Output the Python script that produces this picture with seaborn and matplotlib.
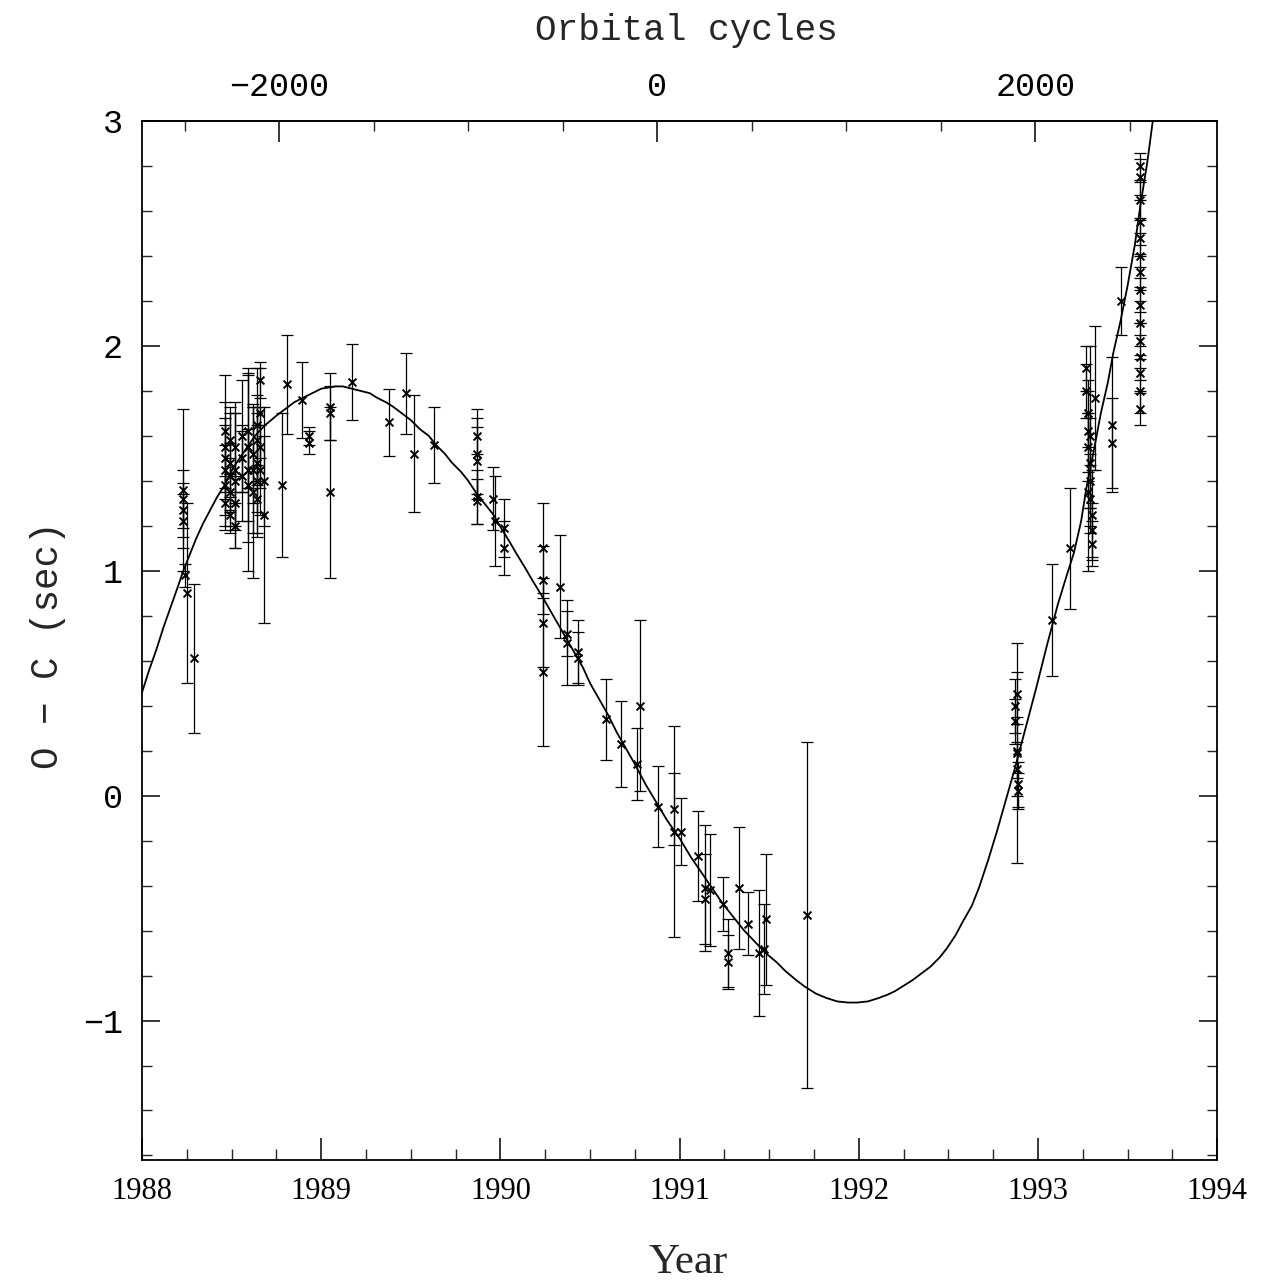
import matplotlib
matplotlib.use("Agg")
import matplotlib.pyplot as plt
from matplotlib.ticker import MultipleLocator
import seaborn as sns

# ---- data ----
years = [
    1988.23, 1988.23, 1988.23, 1988.23, 1988.24, 1988.25, 1988.29,
    1988.46, 1988.46, 1988.46, 1988.46, 1988.46, 1988.46,
    1988.49, 1988.49, 1988.49, 1988.49, 1988.49,
    1988.52, 1988.52, 1988.52, 1988.52, 1988.52,
    1988.56, 1988.56, 1988.56,
    1988.59, 1988.59, 1988.59, 1988.59,
    1988.62, 1988.62, 1988.62,
    1988.64, 1988.64, 1988.64, 1988.64, 1988.64,
    1988.66, 1988.66, 1988.66, 1988.66,
    1988.68, 1988.68,
    1988.78, 1988.81, 1988.89, 1988.93, 1988.93,
    1989.05, 1989.05, 1989.05, 1989.17, 1989.38, 1989.47, 1989.52, 1989.63,
    1989.87, 1989.87, 1989.87, 1989.87, 1989.87,
    1989.96, 1989.97, 1990.02, 1990.02,
    1990.24, 1990.24, 1990.24, 1990.24,
    1990.33, 1990.37, 1990.37, 1990.43, 1990.43,
    1990.59, 1990.67, 1990.76, 1990.78,
    1990.88, 1990.97, 1990.97, 1991.01,
    1991.10, 1991.14, 1991.14, 1991.17, 1991.24, 1991.27, 1991.27,
    1991.33, 1991.38, 1991.44, 1991.47, 1991.48, 1991.71,
    1992.87, 1992.87, 1992.88, 1992.88, 1992.88, 1992.89, 1992.89, 1992.88,
    1993.08, 1993.18,
    1993.27, 1993.27, 1993.28, 1993.28, 1993.28, 1993.29, 1993.29, 1993.29,
    1993.30, 1993.30, 1993.30, 1993.29, 1993.28,
    1993.32, 1993.41, 1993.41, 1993.46,
    1993.57, 1993.57, 1993.57, 1993.57, 1993.57, 1993.57, 1993.57, 1993.57,
    1993.57, 1993.57, 1993.57, 1993.57, 1993.57, 1993.57, 1993.57,
]
oc = [
    1.36, 1.32, 1.27, 1.22, 0.98, 0.90, 0.61,
    1.55, 1.50, 1.45, 1.38, 1.62, 1.30,
    1.58, 1.48, 1.42, 1.35, 1.25,
    1.55, 1.45, 1.40, 1.30, 1.20,
    1.60, 1.50, 1.42,
    1.55, 1.45, 1.38, 1.62,
    1.52, 1.45, 1.35,
    1.65, 1.58, 1.48, 1.40, 1.32,
    1.85, 1.70, 1.55, 1.45,
    1.25, 1.40,
    1.38, 1.83, 1.76, 1.57, 1.60,
    1.73, 1.70, 1.35, 1.84, 1.66, 1.79, 1.52, 1.56,
    1.52, 1.49, 1.33, 1.31, 1.60,
    1.32, 1.22, 1.19, 1.10,
    1.10, 0.96, 0.77, 0.55,
    0.93, 0.68, 0.72, 0.64, 0.61,
    0.34, 0.23, 0.14, 0.40,
    -0.05, -0.06, -0.16, -0.16,
    -0.27, -0.41, -0.46, -0.42, -0.48, -0.70, -0.74,
    -0.41, -0.57, -0.70, -0.68, -0.55, -0.53,
    0.40, 0.33, 0.19, 0.20, 0.12, 0.05, 0.02, 0.45,
    0.78, 1.10,
    1.90, 1.80, 1.70, 1.62, 1.55, 1.48, 1.40, 1.32,
    1.25, 1.18, 1.12, 1.60, 1.35,
    1.77, 1.65, 1.57, 2.20,
    2.80, 2.75, 2.65, 2.55, 2.48, 2.40, 2.33, 2.25,
    2.18, 2.10, 2.02, 1.95, 1.88, 1.80, 1.72,
]
err = [
    0.36, 0.13, 0.12, 0.12, 0.05, 0.40, 0.33,
    0.20, 0.18, 0.20, 0.18, 0.25, 0.12,
    0.15, 0.22, 0.15, 0.15, 0.08,
    0.20, 0.25, 0.30, 0.12, 0.10,
    0.25, 0.15, 0.20,
    0.33, 0.45, 0.25, 0.25,
    0.22, 0.28, 0.38,
    0.25, 0.20, 0.22, 0.25, 0.15,
    0.08, 0.20, 0.18, 0.20,
    0.48, 0.20,
    0.32, 0.22, 0.17, 0.05, 0.04,
    0.15, 0.12, 0.38, 0.17, 0.15, 0.18, 0.26, 0.17,
    0.20, 0.15, 0.12, 0.10, 0.08,
    0.14, 0.20, 0.13, 0.12,
    0.20, 0.15, 0.20, 0.33,
    0.23, 0.19, 0.10, 0.14, 0.12,
    0.18, 0.19, 0.16, 0.38,
    0.18, 0.16, 0.47, 0.15,
    0.20, 0.28, 0.20, 0.25, 0.12, 0.15, 0.12,
    0.27, 0.14, 0.28, 0.20, 0.29, 0.77,
    0.12, 0.10, 0.49, 0.12, 0.12, 0.10, 0.08, 0.10,
    0.25, 0.27,
    0.10, 0.12, 0.15, 0.18, 0.15, 0.20, 0.12, 0.15,
    0.20, 0.12, 0.10, 0.40, 0.35,
    0.32, 0.30, 0.20, 0.15,
    0.06, 0.08, 0.08, 0.10, 0.08, 0.10, 0.08, 0.10,
    0.08, 0.10, 0.08, 0.10, 0.08, 0.10, 0.07,
]

# fitted curve
curve_year = [
    1988.00, 1988.04, 1988.08, 1988.12, 1988.16, 1988.20, 1988.23, 1988.27,
    1988.30, 1988.34, 1988.38, 1988.42, 1988.46, 1988.51, 1988.57, 1988.63,
    1988.69, 1988.75, 1988.80, 1988.85, 1988.90, 1988.95, 1989.00, 1989.04,
    1989.08, 1989.12, 1989.17, 1989.22, 1989.27, 1989.31, 1989.36, 1989.40,
    1989.45, 1989.50, 1989.55, 1989.60, 1989.64, 1989.69, 1989.73, 1989.78,
    1989.82, 1989.87, 1989.91, 1989.96, 1990.00, 1990.05, 1990.09, 1990.14,
    1990.18, 1990.23, 1990.28, 1990.32, 1990.37, 1990.41, 1990.46, 1990.50,
    1990.55, 1990.60, 1990.65, 1990.70, 1990.75, 1990.81, 1990.87, 1990.93,
    1991.00, 1991.06, 1991.12, 1991.18, 1991.24, 1991.30, 1991.36, 1991.42,
    1991.48, 1991.54, 1991.59, 1991.65, 1991.70, 1991.76, 1991.82, 1991.88,
    1991.94, 1991.99, 1992.05, 1992.11, 1992.16, 1992.20, 1992.25, 1992.30,
    1992.35, 1992.40, 1992.45, 1992.49, 1992.54, 1992.58, 1992.63, 1992.67,
    1992.72, 1992.77, 1992.82, 1992.87, 1992.93, 1992.99, 1993.05, 1993.11,
    1993.16, 1993.20, 1993.24, 1993.27, 1993.31, 1993.35, 1993.39, 1993.42,
    1993.46, 1993.50, 1993.54, 1993.57, 1993.61, 1993.64, 1993.67,
]
curve_oc = [
    0.46, 0.56, 0.65, 0.75, 0.84, 0.93, 1.00, 1.08,
    1.14, 1.21, 1.27, 1.33, 1.38, 1.46, 1.53, 1.60,
    1.65, 1.69, 1.72, 1.75, 1.77, 1.79, 1.81, 1.815,
    1.82, 1.82, 1.81, 1.80, 1.79, 1.77, 1.75, 1.73,
    1.70, 1.67, 1.63, 1.60, 1.56, 1.52, 1.48, 1.44,
    1.40, 1.34, 1.30, 1.25, 1.195, 1.13, 1.075, 1.01,
    0.955, 0.89, 0.82, 0.765, 0.695, 0.64, 0.57, 0.50,
    0.43, 0.36, 0.28, 0.21, 0.14, 0.05, -0.03, -0.11,
    -0.19, -0.27, -0.34, -0.41, -0.48, -0.54, -0.60, -0.65,
    -0.70, -0.74, -0.78, -0.82, -0.85, -0.88, -0.90, -0.915,
    -0.92, -0.92, -0.915, -0.90, -0.885, -0.87, -0.845, -0.82,
    -0.79, -0.76, -0.72, -0.68, -0.62, -0.56, -0.49, -0.41,
    -0.29, -0.16, -0.02, 0.12, 0.30, 0.48, 0.67, 0.85,
    0.98, 1.08, 1.22, 1.37, 1.53, 1.70, 1.84, 1.97,
    2.11, 2.27, 2.45, 2.62, 2.82, 3.00, 3.15,
]

year_ticks = [1988, 1989, 1990, 1991, 1992, 1993, 1994]
oc_ticks = [-1, 0, 1, 2, 3]
cycle_ticks = [-2000, 0, 2000]

# top-axis mapping (cycle 0 epoch and cycles per year)
EPOCH = 1990.875
CYC_PER_YR = 947.9

sns.set_theme(style="white")
plt.rcParams['font.family'] = ['Liberation Serif', 'DejaVu Sans']
plt.rcParams['axes.unicode_minus'] = True

fig = plt.figure(figsize=(12.8, 12.85), dpi=100)
ax = fig.add_axes([0.111, 0.0973, 0.840, 0.8085])

ax.errorbar(years, oc, yerr=err, fmt='none', ecolor='black',
            elinewidth=0.9, capsize=4.5, capthick=0.9, zorder=2)
sns.scatterplot(x=years, y=oc, marker='x', color='black', s=32,
                linewidth=1.4, ax=ax, zorder=3)
sns.lineplot(x=curve_year, y=curve_oc, color='black', linewidth=1.3,
             sort=False, estimator=None, ax=ax, zorder=4)

ax.set_xlim(1988, 1994)
ax.set_ylim(-1.62, 3)

for s in ax.spines.values():
    s.set_visible(True)
    s.set_color('black')
    s.set_linewidth(1.3)

ax.set_xticks(year_ticks)
ax.set_xticklabels([str(y) for y in year_ticks])
ax.xaxis.set_minor_locator(MultipleLocator(0.25))
ax.set_yticks(oc_ticks)
ax.set_yticklabels([str(v).replace('-', '\u2212') for v in oc_ticks])
ax.yaxis.set_minor_locator(MultipleLocator(0.2))

ax.tick_params(axis='x', which='major', direction='in', length=16, width=1.1,
               bottom=True, top=False, pad=12, labelsize=22, colors='black')
ax.tick_params(axis='x', which='minor', direction='in', length=8, width=1.0,
               bottom=True, top=False)
ax.tick_params(axis='y', which='major', direction='in', length=13, width=1.1,
               left=True, right=True, pad=14, colors='black')
ax.tick_params(axis='y', which='minor', direction='in', length=7, width=1.0,
               left=True, right=True)
for lab in ax.get_yticklabels():
    lab.set_family(['Liberation Mono', 'DejaVu Sans Mono'])
    lab.set_fontsize(24)

secax = ax.secondary_xaxis('top', functions=(lambda y: (y - EPOCH) * CYC_PER_YR,
                                             lambda c: c / CYC_PER_YR + EPOCH))
secax.set_xticks(cycle_ticks)
secax.set_xticklabels([str(c).replace('-', '\u2212') for c in cycle_ticks])
secax.xaxis.set_minor_locator(MultipleLocator(500))
secax.tick_params(axis='x', which='major', direction='in', length=15, width=1.1,
                  pad=13, colors='black')
secax.tick_params(axis='x', which='minor', direction='in', length=7, width=1.0)
for lab in secax.get_xticklabels():
    lab.set_family(['Liberation Mono', 'DejaVu Sans Mono'])
    lab.set_fontsize(24)
secax.spines['top'].set_linewidth(1.3)

ax.set_xlabel('')
ax.set_ylabel('')
fig.text(688 / 1280, 1 - 1263 / 1285, 'Year', ha='center', va='center',
         fontsize=31, family=['Liberation Serif', 'DejaVu Serif'])
fig.text(686 / 1280, 1 - 30 / 1285, 'Orbital cycles', ha='center', va='center',
         fontsize=26, family=['Liberation Mono', 'DejaVu Sans Mono'])
fig.text(48 / 1280, 1 - 645 / 1285, 'O \u2212 C (sec)', ha='center', va='center',
         rotation=90, fontsize=27, family=['Liberation Mono', 'DejaVu Sans Mono'])

fig.savefig('out.png', dpi=100, facecolor='white')
